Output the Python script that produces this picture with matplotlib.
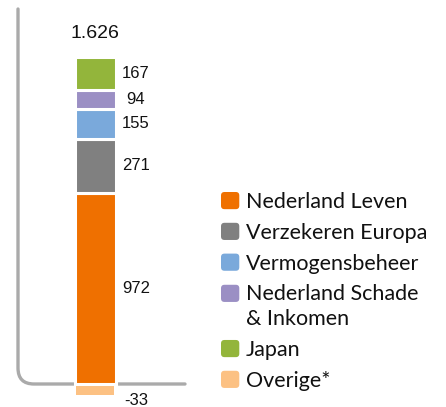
import matplotlib
matplotlib.use("Agg")
import matplotlib.pyplot as plt
from matplotlib.path import Path
from matplotlib.patches import PathPatch, FancyBboxPatch
from matplotlib.legend_handler import HandlerPatch

# data
segments = ["Nederland Leven", "Verzekeren Europa", "Vermogensbeheer",
            "Nederland Schade\n& Inkomen", "Japan", "Overige*"]
values = [972, 271, 155, 94, 167, -33]
colors = ["#EF7000", "#808080", "#7AA9DB", "#9B8FC4", "#93B53B", "#FCC183"]
total_label = "1.626"

W, H, DPI = 446, 407, 100
PX = 1 / 0.197          # data units per pixel (vertical)
ZERO_PX = 23            # zero line, pixels from bottom
BAR_X, BAR_W = 95, 41   # bar centre / width in pixels

fig = plt.figure(figsize=(W / DPI, H / DPI), dpi=DPI)
ax = fig.add_axes([0, 0, 1, 1])
ax.set_xlim(0, W)
ax.set_ylim(-ZERO_PX * PX, (H - ZERO_PX) * PX)
ax.axis("off")

# axis line with rounded corner
r = 16
verts = [(18, (H - ZERO_PX - 9) * PX), (18, r * PX), (18, 0), (18 + r, 0), (185, 0)]
codes = [Path.MOVETO, Path.LINETO, Path.CURVE3, Path.CURVE3, Path.LINETO]
ax.add_patch(PathPatch(Path(verts, codes), fill=False, edgecolor="#AAAAAA",
                       lw=2.4, capstyle="round", zorder=1))

# stacked bar
pos = 0
for name, v, c in zip(segments, values, colors):
    if v >= 0:
        ax.bar(BAR_X, v, BAR_W, bottom=pos, color=c, edgecolor="white",
               linewidth=2.2, zorder=2)
        mid = pos + v / 2
        pos += v
    else:
        ax.bar(BAR_X, v - 2 * PX, BAR_W - 2.2, bottom=-2 * PX, color=c,
               linewidth=0, zorder=2)
        mid = v - 10 * PX
    ax.text(BAR_X + 41, mid, str(v), ha="center", va="center",
            fontsize=12, family="Liberation Sans", color="#111111")

ax.annotate(total_label, (BAR_X, pos), xytext=(0, 11), textcoords="offset points",
            ha="center", va="bottom", fontsize=14, family="Liberation Sans",
            color="#111111")


class RoundHandler(HandlerPatch):
    def create_artists(self, legend, orig_handle, xdescent, ydescent,
                       width, height, fontsize, trans):
        # two-line entries: put the square next to the first line
        lift = 0.65 * fontsize if orig_handle.get_gid() == "twoline" else 0
        p = FancyBboxPatch((-xdescent + 1.5, -ydescent + 1.5 + lift), width - 3, height - 3,
                           boxstyle="round,pad=1.5,rounding_size=2.5",
                           facecolor=orig_handle.get_facecolor(), edgecolor="none",
                           transform=trans)
        return [p]


handles = []
for name, c in zip(segments, colors):
    h = plt.Rectangle((0, 0), 1, 1, facecolor=c)
    if "\n" in name:
        h.set_gid("twoline")
    handles.append(h)

leg = fig.legend(handles, segments, loc="upper left",
                 bbox_to_anchor=(221 / W, 1 - 192 / H), frameon=False,
                 borderpad=0, borderaxespad=0, handlelength=0.85, handleheight=0.85,
                 handletextpad=0.3, labelspacing=0.5,
                 prop={"family": "Lato", "size": 15.5},
                 handler_map={plt.Rectangle: RoundHandler()})
for t in leg.get_texts():
    t.set_color("#111111")
    t.set_linespacing(1.3)

fig.savefig("out.png", dpi=DPI)
